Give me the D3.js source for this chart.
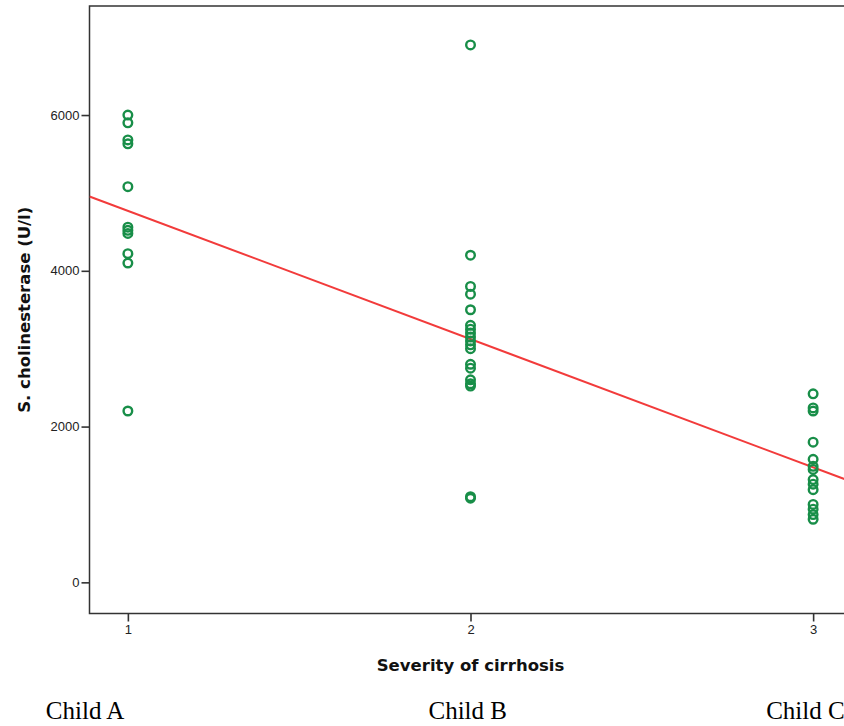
<!DOCTYPE html>
<html>
<head>
<meta charset="utf-8">
<script src="https://cdn.jsdelivr.net/npm/d3@7"></script>
<style>
  html, body { margin: 0; padding: 0; background: #fff; }
  svg { display: block; }
</style>
</head>
<body>
<div id="chart"></div>
<script>
// Serum cholinesterase per Child-Pugh class
const severity = [1, 2, 3];
const childA = [6000, 5900, 5680, 5630, 5080, 4560, 4520, 4480, 4220, 4100, 2200];
const childB = [6900, 4200, 3800, 3700, 3500, 3300, 3250, 3200, 3150, 3100, 3050, 3000,
                2800, 2750, 2600, 2550, 2520, 1100, 1080];
const childC = [2420, 2240, 2200, 1800, 1580, 1490, 1450, 1320, 1260, 1190, 1000, 940, 870, 810];
const yTicks = [0, 2000, 4000, 6000];
const childLabels = ["Child A", "Child B", "Child C"];

const width = 844, height = 726;
const margin = { top: 6, left: 89.5, bottom: 112.5 };
const plotRight = 851.5; // frame runs just past the window edge

const svg = d3.select("#chart").append("svg")
    .attr("width", width)
    .attr("height", height);

const x = d3.scaleLinear().domain([0.888, 3.112]).range([margin.left, plotRight]);
const y = d3.scaleLinear().domain([-400, 7400]).range([height - margin.bottom, margin.top]);

const points = [childA, childB, childC].flatMap((vals, i) =>
    vals.map(v => ({ x: severity[i], y: v })));

// least squares fit line
const mx = d3.mean(points, d => d.x), my = d3.mean(points, d => d.y);
const slope = d3.sum(points, d => (d.x - mx) * (d.y - my)) / d3.sum(points, d => (d.x - mx) ** 2);
const intercept = my - slope * mx;

svg.append("clipPath").attr("id", "plot-clip")
    .append("rect")
    .attr("x", margin.left).attr("y", margin.top)
    .attr("width", plotRight - margin.left)
    .attr("height", y.range()[0] - margin.top);

// axes
const yAxis = svg.append("g")
    .attr("transform", `translate(${margin.left},0)`)
    .call(d3.axisLeft(y).tickValues(yTicks).tickFormat(d3.format("d")).tickSize(8).tickPadding(2));

const xAxis = svg.append("g")
    .attr("transform", `translate(0,${y.range()[0]})`)
    .call(d3.axisBottom(x).tickValues(severity).tickFormat(d3.format("d")).tickSize(8).tickPadding(3));

[yAxis, xAxis].forEach(g => {
    g.select(".domain").remove();
    g.selectAll("line").attr("stroke", "#333").attr("stroke-width", 1.6);
    g.selectAll("text")
        .attr("fill", "#222")
        .style("font-family", "'Liberation Sans', Arial, sans-serif")
        .style("font-size", "13px");
});

// frame
svg.append("rect")
    .attr("x", margin.left).attr("y", margin.top)
    .attr("width", plotRight - margin.left)
    .attr("height", y.range()[0] - margin.top)
    .attr("fill", "none")
    .attr("stroke", "#333")
    .attr("stroke-width", 1.5);

// fit line
const [x0, x1] = x.domain();
svg.append("line")
    .attr("clip-path", "url(#plot-clip)")
    .attr("x1", x(x0)).attr("y1", y(intercept + slope * x0))
    .attr("x2", x(x1)).attr("y2", y(intercept + slope * x1))
    .attr("stroke", "#f23b3b")
    .attr("stroke-width", 2);

// points
svg.append("g").selectAll("circle")
    .data(points)
    .enter().append("circle")
    .attr("cx", d => x(d.x))
    .attr("cy", d => y(d.y))
    .attr("r", 4.3)
    .attr("fill", "none")
    .attr("stroke", "#188e48")
    .attr("stroke-width", 2.4);

// axis titles
svg.append("text")
    .attr("x", (margin.left + plotRight) / 2)
    .attr("y", 671)
    .attr("text-anchor", "middle")
    .style("font-family", "'DejaVu Sans', sans-serif")
    .style("font-weight", "bold")
    .style("font-size", "16.5px")
    .attr("fill", "#111")
    .text("Severity of cirrhosis");

svg.append("text")
    .attr("transform", `translate(30,${(margin.top + y.range()[0]) / 2}) rotate(-90)`)
    .attr("text-anchor", "middle")
    .style("font-family", "'DejaVu Sans', sans-serif")
    .style("font-weight", "bold")
    .style("font-size", "16.5px")
    .attr("fill", "#111")
    .text("S. cholinesterase (U/l)");

// class labels under the axis
const labelShift = [-82, -42, -47];
svg.append("g").selectAll("text")
    .data(childLabels)
    .enter().append("text")
    .attr("x", (d, i) => x(severity[i]) + labelShift[i])
    .attr("y", 719)
    .style("font-family", "'Liberation Serif', 'Times New Roman', serif")
    .style("font-size", "25px")
    .attr("fill", "#000")
    .text(d => d);
</script>
</body>
</html>
